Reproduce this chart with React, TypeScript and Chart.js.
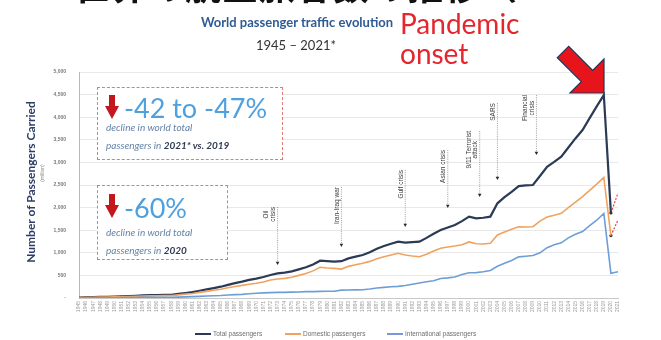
import React, { useEffect, useRef } from "react";
import { Chart, registerables } from "chart.js";

Chart.register(...registerables);

// ---------- DATA ----------
const years = [
  "1945","1946","1947","1948","1949","1950","1951","1952","1953","1954",
  "1955","1956","1957","1958","1959","1960","1961","1962","1963","1964",
  "1965","1966","1967","1968","1969","1970","1971","1972","1973","1974",
  "1975","1976","1977","1978","1979","1980","1981","1982","1983","1984",
  "1985","1986","1987","1988","1989","1990","1991","1992","1993","1994",
  "1995","1996","1997","1998","1999","2000","2001","2002","2003","2004",
  "2005","2006","2007","2008","2009","2010","2011","2012","2013","2014",
  "2015","2016","2017","2018","2019","2020","2021",
];

// million passengers
const totalPassengers = [
  10, 18, 21, 24, 27, 31, 38, 44, 50, 56,
  62, 66, 68, 72, 90, 110, 130, 160, 190, 220,
  250, 290, 330, 361, 400, 430, 465, 509, 545, 560,
  590, 634, 680, 740, 826, 815, 805, 815, 877, 915,
  951, 1010, 1090, 1150, 1200, 1246, 1225, 1235, 1246, 1330,
  1420, 1504, 1560, 1615, 1700, 1800, 1762, 1775, 1800, 2095,
  2230, 2350, 2477, 2490, 2500, 2700, 2904, 3010, 3126, 3330,
  3530, 3716, 3980, 4240, 4490, 1880, null,
];

const domesticPassengers = [
  8, 14, 17, 19, 21, 24, 29, 34, 39, 43,
  48, 51, 52, 56, 70, 86, 100, 124, 147, 170,
  195, 225, 255, 280, 305, 325, 352, 398, 420, 435,
  460, 500, 540, 600, 680, 665, 655, 640, 700, 735,
  767, 810, 870, 914, 950, 988, 950, 930, 914, 970,
  1040, 1099, 1130, 1150, 1180, 1240, 1200, 1195, 1210, 1394,
  1460, 1520, 1577, 1570, 1577, 1700, 1790, 1830, 1874, 2000,
  2120, 2241, 2380, 2520, 2670, 1380, null,
];

const internationalPassengers = [
  2, 4, 4, 5, 6, 7, 9, 10, 11, 13,
  14, 15, 16, 16, 20, 24, 30, 36, 43, 50,
  55, 65, 75, 81, 95, 105, 113, 120, 125, 125,
  130, 134, 140, 140, 146, 150, 150, 175, 177, 180,
  184, 200, 220, 236, 250, 258, 275, 305, 332, 360,
  380, 430, 445, 465, 520, 560, 562, 580, 610, 701,
  770, 830, 910, 925, 940, 1000, 1114, 1180, 1220, 1330,
  1410, 1470, 1600, 1720, 1870, 546, 582,
];

const estimateYears = ["2020", "2021"];
const totalEstimate = [1880, 2323];
const domesticEstimate = [1380, 1725];

const yTickValues = [0, 500, 1000, 1500, 2000, 2500, 3000, 3500, 4000, 4500, 5000];

const eventLabels = [
  ["Oil", "crisis"],
  ["Iran-Iraq war"],
  ["Gulf crisis"],
  ["Asian crisis"],
  ["9/11 Terrorist", "attack"],
  ["SARS"],
  ["Financial", "crisis"],
];
const eventYears = [1973, 1982, 1991, 1997, 2001.5, 2004, 2009.5];
const eventTopValues = [2013, 2455, 2831, 3274, 3694, 4313, 4490];
const eventArrowValues = [730, 1128, 1570, 1990, 2234, 2610, 3163];

const legendLabels = ["Total passengers", "Domestic passengers", "International passengers"];

// ---------- PLUGIN ----------
const eventPlugin = {
  id: "eventMarkers",
  afterDatasetsDraw(chart: any) {
    const { ctx } = chart;
    const x = chart.scales.x;
    const y = chart.scales.y;
    ctx.save();
    ctx.font = '6.5px "Liberation Sans", Arial, sans-serif';
    eventLabels.forEach((lines, i) => {
      const lx = x.getPixelForValue(eventYears[i] - Number(years[0]));
      const top = y.getPixelForValue(eventTopValues[i]);
      const bottom = y.getPixelForValue(eventArrowValues[i]);
      const maxW = Math.max(...lines.map((l) => ctx.measureText(l).width));
      const cy = top + maxW / 2;
      lines.forEach((l, j) => {
        const cx = lx - 4.5 - (lines.length - 1 - j) * 6.5;
        ctx.save();
        ctx.translate(cx, cy);
        ctx.rotate(-Math.PI / 2);
        ctx.textAlign = "center";
        ctx.textBaseline = "middle";
        ctx.fillStyle = "#3a3a3a";
        ctx.fillText(l, 0, 0);
        ctx.restore();
      });
      ctx.setLineDash([1, 1.2]);
      ctx.strokeStyle = "#777";
      ctx.lineWidth = 0.7;
      ctx.beginPath();
      ctx.moveTo(lx, top);
      ctx.lineTo(lx, bottom - 2);
      ctx.stroke();
      ctx.setLineDash([]);
      ctx.fillStyle = "#2a2a2a";
      ctx.beginPath();
      ctx.moveTo(lx - 1.8, bottom - 3.2);
      ctx.lineTo(lx + 1.8, bottom - 3.2);
      ctx.lineTo(lx, bottom);
      ctx.closePath();
      ctx.fill();
    });
    ctx.restore();
  },
};

// ---------- COMPONENTS ----------
const DownArrow = ({ left, top }: { left: number; top: number }) => (
  <svg
    width={14}
    height={24}
    style={{ position: "absolute", left, top }}
    viewBox="0 0 14 24"
  >
    <polygon points="4,0 10,0 10,11 14,11 7,24 0,11 4,11" fill="#c3161d" />
  </svg>
);

const abs = (style: React.CSSProperties): React.CSSProperties => ({
  position: "absolute",
  whiteSpace: "nowrap",
  ...style,
});

export default function App() {
  const canvasRef = useRef<HTMLCanvasElement | null>(null);

  useEffect(() => {
    if (!canvasRef.current) return;
    const chart = new Chart(canvasRef.current, {
      type: "line",
      data: {
        labels: years,
        datasets: [
          {
            label: "International passengers",
            data: internationalPassengers,
            borderColor: "#6d9ed6",
            borderWidth: 1.6,
            pointRadius: 0,
            tension: 0,
          },
          {
            label: "Domestic passengers",
            data: domesticPassengers,
            borderColor: "#f0a35e",
            borderWidth: 1.6,
            pointRadius: 0,
            tension: 0,
          },
          {
            label: "Total passengers",
            data: totalPassengers,
            borderColor: "#2b3a55",
            borderWidth: 2.2,
            pointRadius: 0,
            tension: 0,
          },
          {
            label: "Total estimate",
            data: estimateYears.map((yr, i) => ({ x: yr, y: totalEstimate[i] })),
            borderColor: "#e0444e",
            borderDash: [2, 1.5],
            borderWidth: 1.2,
            pointRadius: [1.6, 0],
            pointBackgroundColor: "#333",
            pointBorderWidth: 0,
            tension: 0,
          },
          {
            label: "Domestic estimate",
            data: estimateYears.map((yr, i) => ({ x: yr, y: domesticEstimate[i] })),
            borderColor: "#e0444e",
            borderDash: [2, 1.5],
            borderWidth: 1.2,
            pointRadius: [1.6, 0],
            pointBackgroundColor: "#333",
            pointBorderWidth: 0,
            tension: 0,
          },
        ],
      },
      options: {
        animation: false,
        responsive: false,
        devicePixelRatio: 1,
        layout: { padding: { top: 72, right: 43, left: 0, bottom: 0 } },
        plugins: { legend: { display: false }, tooltip: { enabled: false } },
        scales: {
          x: {
            type: "category",
            offset: false,
            grid: { display: false, drawTicks: false },
            border: { color: "#c8c8c8" },
            ticks: {
              autoSkip: false,
              minRotation: 90,
              maxRotation: 90,
              padding: 3,
              color: "#9a9a9a",
              font: { size: 5, family: '"Liberation Sans", Arial, sans-serif' },
            },
            afterFit: (s: any) => {
              s.height = 42;
            },
          },
          y: {
            min: 0,
            max: 5000,
            afterBuildTicks: (s: any) => {
              s.ticks = yTickValues.map((v) => ({ value: v }));
            },
            ticks: {
              padding: 13,
              color: "#7a7a7a",
              font: { size: 5, weight: "bold", family: '"Liberation Sans", Arial, sans-serif' },
              callback: (v: any) => (Number(v) === 0 ? "-" : Number(v).toLocaleString("en-US")),
            },
            grid: { color: "#e2e2e2", lineWidth: 0.8, drawTicks: false },
            border: { color: "#b9b9b9" },
            afterFit: (s: any) => {
              s.width = 79;
            },
          },
        },
      },
      plugins: [eventPlugin],
    } as any);
    return () => chart.destroy();
  }, []);

  const boxText: React.CSSProperties = {
    fontFamily: "Lato, sans-serif",
    fontStyle: "italic",
    fontSize: 10,
    lineHeight: "12px",
    color: "#6482a8",
  };
  const bigText: React.CSSProperties = {
    fontFamily: "Lato, sans-serif",
    fontSize: 27,
    lineHeight: "27px",
    color: "#4fa0de",
  };
  const legendColors = ["#2b3a55", "#f0a35e", "#7f96d6"];
  const legendLineX = [195, 285, 387];

  return (
    <div
      style={{
        position: "fixed",
        left: 0,
        top: 0,
        width: 661,
        height: 340,
        background: "#ffffff",
        overflow: "hidden",
      }}
    >
      <canvas
        ref={canvasRef}
        width={661}
        height={340}
        style={{ position: "absolute", left: 0, top: 0, width: 661, height: 340 }}
      />

      {/* Japanese heading (cut at top) */}
      <div
        style={abs({
          left: 74,
          top: -34,
          fontFamily: '"Noto Sans CJK JP", sans-serif',
          fontWeight: "bold",
          fontSize: 36,
          lineHeight: "36px",
          letterSpacing: 1,
          color: "#111",
        })}
      >
        世界の航空旅客数の推移（
      </div>

      {/* Slide title */}
      <div
        style={abs({
          left: 147,
          width: 300,
          top: 14,
          textAlign: "center",
          fontFamily: "Lato, sans-serif",
          fontWeight: "bold",
          fontSize: 13,
          lineHeight: "16px",
          color: "#2f5b95",
        })}
      >
        World passenger traffic evolution
      </div>
      <div
        style={abs({
          left: 196,
          width: 200,
          top: 37,
          textAlign: "center",
          fontFamily: "Lato, sans-serif",
          fontSize: 13,
          lineHeight: "16px",
          color: "#333",
        })}
      >
        1945 – 2021*
      </div>

      {/* Pandemic onset */}
      <div
        style={abs({
          left: 400,
          top: 8,
          fontFamily: "Lato, sans-serif",
          fontSize: 28,
          lineHeight: "30px",
          color: "#e5262d",
        })}
      >
        Pandemic
        <br />
        onset
      </div>
      <svg
        width={661}
        height={340}
        style={{ position: "absolute", left: 0, top: 0, pointerEvents: "none" }}
      >
        <polygon
          points="557.3,57.7 568.7,46.3 592.7,70.3 604,59 604,93 570,93 581.3,81.7"
          fill="#e8141c"
          stroke="#23355a"
          strokeWidth={1.2}
          strokeLinejoin="miter"
        />
      </svg>

      {/* Y axis title */}
      <div
        style={abs({
          left: 31 - 100,
          top: 182 - 8,
          width: 200,
          height: 16,
          textAlign: "center",
          transform: "rotate(-90deg)",
          fontFamily: "Lato, sans-serif",
          fontWeight: "bold",
          fontSize: 12,
          lineHeight: "16px",
          color: "#2c3e66",
        })}
      >
        Number of Passengers Carried
      </div>
      <div
        style={abs({
          left: 42 - 30,
          top: 173 - 4,
          width: 60,
          height: 8,
          textAlign: "center",
          transform: "rotate(-90deg)",
          fontFamily: '"Liberation Sans", sans-serif',
          fontSize: 5,
          lineHeight: "8px",
          color: "#8a8a8a",
        })}
      >
        (million)
      </div>

      {/* Box 1 */}
      <div
        style={{
          position: "absolute",
          left: 97,
          top: 87,
          width: 184,
          height: 71,
          border: "1.3px dashed #e07a7a",
          background: "#fff",
        }}
      />
      <DownArrow left={105} top={95} />
      <div style={abs({ ...bigText, left: 124, top: 94 })}>-42 to -47%</div>
      <div style={abs({ ...boxText, left: 106, top: 121 })}>decline in world total</div>
      <div style={abs({ ...boxText, left: 106, top: 139 })}>
        passengers in <b style={{ color: "#2e3a50" }}>2021* vs. 2019</b>
      </div>

      {/* Box 2 */}
      <div
        style={{
          position: "absolute",
          left: 97,
          top: 185,
          width: 129,
          height: 73,
          border: "1.3px dashed #e07a7a",
          background: "#fff",
        }}
      />
      <DownArrow left={105} top={194} />
      <div style={abs({ ...bigText, left: 124, top: 194 })}>-60%</div>
      <div style={abs({ ...boxText, left: 106, top: 226 })}>decline in world total</div>
      <div style={abs({ ...boxText, left: 106, top: 244 })}>
        passengers in <b style={{ color: "#2e3a50" }}>2020</b>
      </div>

      {/* Legend */}
      {legendLabels.map((l, i) => (
        <React.Fragment key={l}>
          <div
            style={{
              position: "absolute",
              left: legendLineX[i],
              top: 333,
              width: 16,
              height: 1.5,
              background: legendColors[i],
            }}
          />
          <div
            style={abs({
              left: legendLineX[i] + 18,
              top: 330,
              fontFamily: '"Liberation Sans", sans-serif',
              fontSize: 6.5,
              lineHeight: "8px",
              color: "#6e6e6e",
            })}
          >
            {l}
          </div>
        </React.Fragment>
      ))}
    </div>
  );
}
